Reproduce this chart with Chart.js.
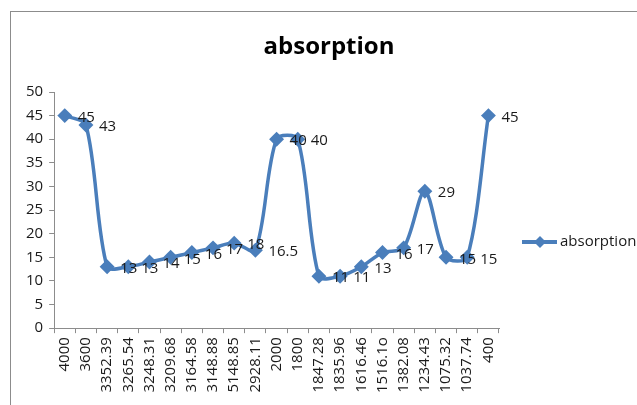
<!DOCTYPE html>
<html>
<head>
<meta charset="utf-8">
<script src="https://cdn.jsdelivr.net/npm/chart.js@4.4.0/dist/chart.umd.min.js"></script>
<style>
    body { margin: 0; background: #fff; overflow: hidden; }
    .frame { position: absolute; left: 10px; top: 11px; width: 700px; height: 500px; border: 1px solid #8c8c8c; }
    .chart-box { position: absolute; left: 0; top: 0; width: 637px; height: 405px; }
</style>
</head>
<body>
<div class="frame"></div>
<div class="chart-box">
    <canvas id="chart" width="637" height="405"></canvas>
</div>
<script>
const wavenumbers = ['4000', '3600', '3352.39', '3265.54', '3248.31', '3209.68', '3164.58', '3148.88', '5148.85', '2928.11',
    '2000', '1800', '1847.28', '1835.96', '1616.46', '1516.1o', '1382.08', '1234.43', '1075.32', '1037.74', '400'];
const absorption = [45, 43, 13, 13, 14, 15, 16, 17, 18, 16.5, 40, 40, 11, 11, 13, 16, 17, 29, 15, 15, 45];
const yTicks = [0, 5, 10, 15, 20, 25, 30, 35, 40, 45, 50];

const seriesName = 'absorption';
const blue = '#4a7ebb';
const font = "'Open Sans', sans-serif";

const extras = {
    id: 'extras',
    afterDatasetsDraw(chart) {
        const ctx = chart.ctx;
        const meta = chart.getDatasetMeta(0);
        ctx.save();
        ctx.fillStyle = '#1a1a1a';
        ctx.font = '15px ' + font;
        ctx.textAlign = 'left';
        ctx.textBaseline = 'middle';
        meta.data.forEach((pt, i) => {
            ctx.fillText(String(absorption[i]), pt.x + 13, pt.y + 2);
        });

        // title
        ctx.font = 'bold 24px ' + font;
        ctx.textAlign = 'center';
        ctx.fillStyle = '#000';
        ctx.fillText(seriesName, 329, 47);

        // legend
        ctx.strokeStyle = blue;
        ctx.lineWidth = 4;
        ctx.beginPath();
        ctx.moveTo(522, 242);
        ctx.lineTo(557, 242);
        ctx.stroke();
        ctx.fillStyle = blue;
        ctx.beginPath();
        ctx.moveTo(540, 236);
        ctx.lineTo(546, 242);
        ctx.lineTo(540, 248);
        ctx.lineTo(534, 242);
        ctx.closePath();
        ctx.fill();
        ctx.fillStyle = '#1a1a1a';
        ctx.font = '15px ' + font;
        ctx.textAlign = 'left';
        ctx.fillText(seriesName, 560, 242);
        ctx.restore();
    }
};

new Chart(document.getElementById('chart'), {
    type: 'line',
    data: {
        labels: wavenumbers,
        datasets: [{
            label: seriesName,
            data: absorption,
            borderColor: blue,
            backgroundColor: blue,
            borderWidth: 3.5,
            pointStyle: 'rectRot',
            pointRadius: 5,
            pointBackgroundColor: blue,
            pointBorderColor: blue,
            tension: 0.3,
            fill: false
        }]
    },
    options: {
        responsive: false,
        animation: false,
        layout: { padding: { left: 20, right: 138, top: 92, bottom: 8 } },
        plugins: {
            legend: { display: false },
            title: { display: false },
            tooltip: { enabled: false }
        },
        scales: {
            x: {
                offset: true,
                grid: { offset: true, drawOnChartArea: false, drawTicks: true, tickLength: 5, color: '#8c8c8c' },
                border: { color: '#8c8c8c', width: 1 },
                ticks: { minRotation: 90, maxRotation: 90, autoSkip: false, color: '#1a1a1a', padding: 4, font: { family: font, size: 15 } }
            },
            y: {
                min: 0,
                max: 50,
                afterBuildTicks: axis => { axis.ticks = yTicks.map(v => ({ value: v })); },
                grid: { drawOnChartArea: false, drawTicks: true, tickLength: 5, color: '#8c8c8c' },
                border: { color: '#8c8c8c', width: 1 },
                ticks: { color: '#1a1a1a', padding: 6, font: { family: font, size: 15 } }
            }
        }
    },
    plugins: [extras]
});
</script>
</body>
</html>
